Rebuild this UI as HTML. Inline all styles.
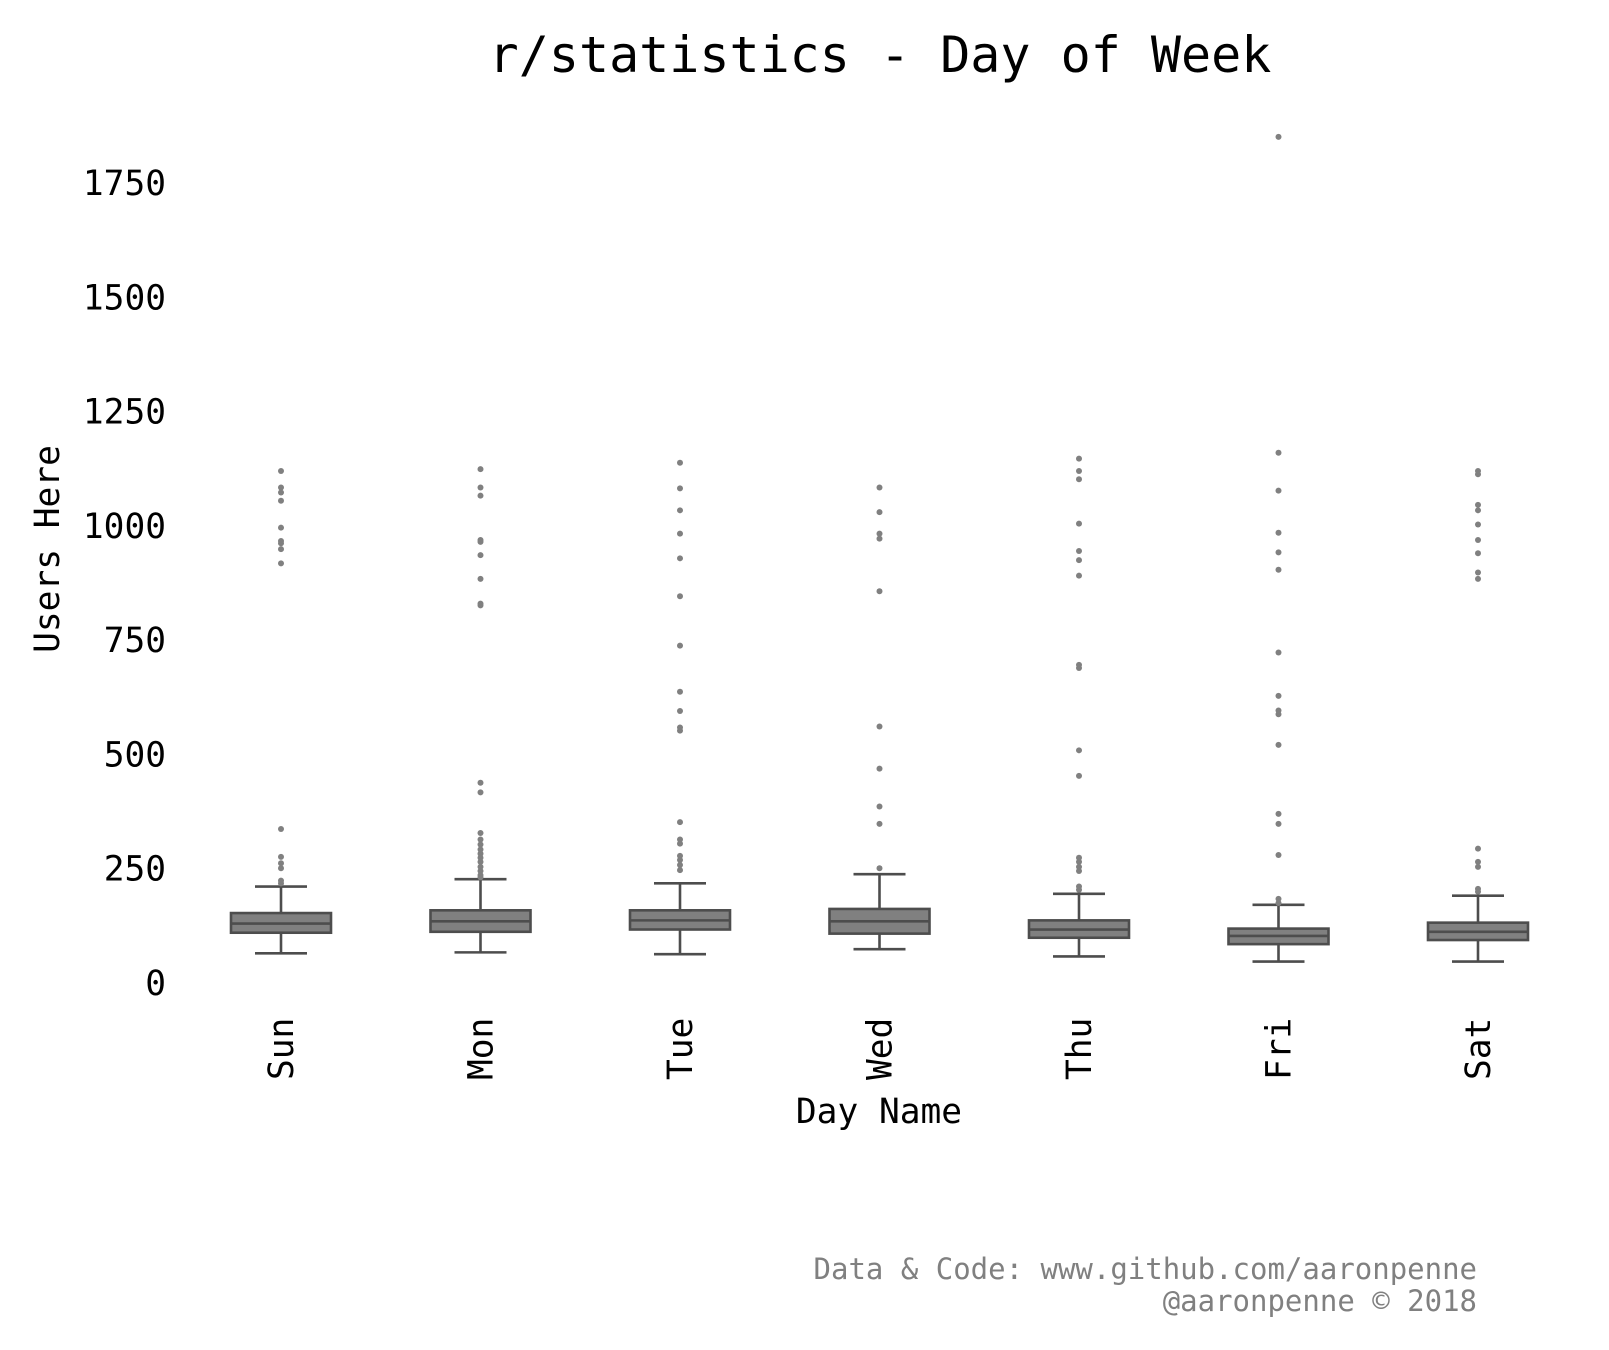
<!DOCTYPE html>
<html><head><meta charset="utf-8"><style>
html,body{margin:0;padding:0;background:#fff}
svg{display:block}
text{font-family:"DejaVu Sans Mono","Liberation Mono",monospace}
</style></head><body>
<svg id="chart" width="1609" height="1350" viewBox="0 0 1609 1350" xmlns="http://www.w3.org/2000/svg">
<rect width="1609" height="1350" fill="#fff"/>
<text x="880" y="72" font-size="50" text-anchor="middle" fill="#000">r/statistics - Day of Week</text>
<text transform="translate(59,549) rotate(-90)" font-size="34.5" text-anchor="middle" fill="#000">Users Here</text>
<text x="879" y="1123" font-size="34.5" text-anchor="middle" fill="#000">Day Name</text>
<g id="yticks"></g><g id="xticks"></g><g id="boxes"></g>
<text x="1477" y="1279" font-size="29" text-anchor="end" fill="#808080">Data &amp; Code: www.github.com/aaronpenne</text>
<text x="1477" y="1311" font-size="29" text-anchor="end" fill="#808080">@aaronpenne © 2018</text>
</svg>
<script>
const categories=["Sun","Mon","Tue","Wed","Thu","Fri","Sat"];
const whiskerLow=[65,67,63,74,58,47,47];
const q1=[110,112,117,108,99,85,94];
const medians=[130,135,137,135,117,103,112];
const q3=[153,159,159,162,137,119,132];
const whiskerHigh=[211,227,218,238,195,171,191];
const outliers=[
[1120,1084,1073,1055,996,967,962,949,918,337,276,262,251,224,218],
[1124,1084,1066,969,965,936,884,830,826,438,417,328,314,303,292,283,274,265,254,245,236,231],
[1138,1082,1034,983,929,846,738,637,595,559,552,352,314,305,278,269,258,247],
[1084,1030,983,972,857,561,469,386,348,251],
[1147,1120,1102,1005,945,925,891,696,689,509,453,274,265,254,245,211,204],
[1851,1160,1077,985,942,904,723,628,596,588,521,370,348,280,184,175],
[1120,1113,1046,1034,1003,969,940,898,884,294,265,254,206,200]
];
const yTicks=[0,250,500,750,1000,1250,1500,1750];
const NS="http://www.w3.org/2000/svg";
function y(v){return 983-v*800/1750;}
function x(i){return 281+i*199.5;}
function mk(tag,attrs,parent){const e=document.createElementNS(NS,tag);for(const k in attrs)e.setAttribute(k,attrs[k]);parent.appendChild(e);return e;}
const yg=document.getElementById('yticks'),xg=document.getElementById('xticks'),bg=document.getElementById('boxes');
yTicks.forEach(t=>{const e=mk('text',{x:166,y:y(t)+12,'font-size':34.5,'text-anchor':'end',fill:'#000'},yg);e.textContent=t;

});
const lc="#4d4d4d",lw=2.6,hw=50,cw=26;
categories.forEach((c,i)=>{
const cx=x(i);
const t=mk('text',{transform:`translate(${cx+12},1080) rotate(-90)`,'font-size':34.5,fill:'#000'},xg);t.textContent=c;


const g=mk('g',{},bg);


mk('line',{x1:cx,x2:cx,y1:y(whiskerLow[i]),y2:y(q1[i]),stroke:lc,'stroke-width':lw},g);
mk('line',{x1:cx,x2:cx,y1:y(q3[i]),y2:y(whiskerHigh[i]),stroke:lc,'stroke-width':lw},g);
mk('line',{x1:cx-cw,x2:cx+cw,y1:y(whiskerLow[i]),y2:y(whiskerLow[i]),stroke:lc,'stroke-width':lw},g);
mk('line',{x1:cx-cw,x2:cx+cw,y1:y(whiskerHigh[i]),y2:y(whiskerHigh[i]),stroke:lc,'stroke-width':lw},g);
mk('rect',{x:cx-hw,y:y(q3[i]),width:hw*2,height:y(q1[i])-y(q3[i]),fill:'#808080',stroke:lc,'stroke-width':lw},g);
mk('line',{x1:cx-hw,x2:cx+hw,y1:y(medians[i]),y2:y(medians[i]),stroke:lc,'stroke-width':lw},g);
outliers[i].forEach(v=>{const d=mk('circle',{cx:cx,cy:y(v),r:3,fill:'#808080'},g);

});
});
</script>
</body></html>
